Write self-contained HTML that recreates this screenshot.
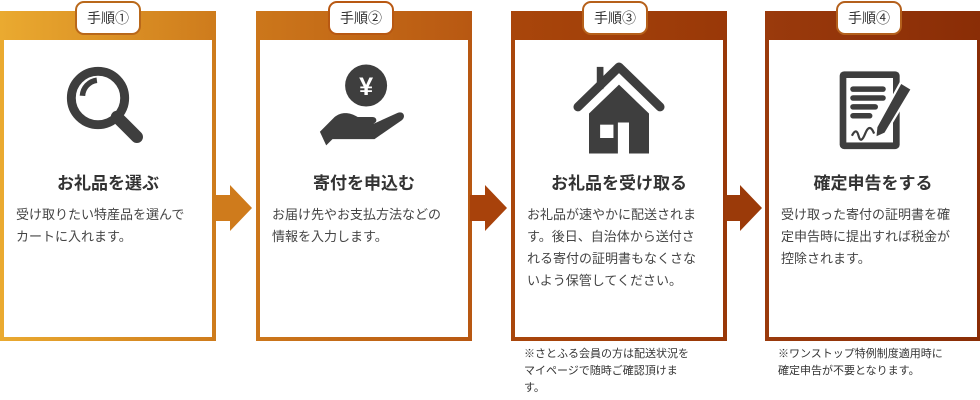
<!DOCTYPE html>
<html><head><meta charset="utf-8"><style>
body{margin:0;width:980px;height:400px;background:#fff;position:relative;font-family:"Liberation Sans","Noto Sans CJK JP",sans-serif;overflow:hidden}
.card{position:absolute;top:11px;width:216px;height:330px;box-sizing:border-box}
.inner{position:absolute;left:4px;right:4px;top:29px;bottom:4px;background:#fff}
.tab{position:absolute;top:1px;width:66px;height:34px;background:#fff;border:2px solid;border-radius:9px;box-sizing:border-box;text-align:center;font-size:14px;line-height:30px;color:#333}
.title{position:absolute;top:129px;left:0;right:0;text-align:center;font-weight:bold;font-size:17px;color:#333}
.body{position:absolute;top:164px;left:12px;right:18px;font-size:13px;line-height:22px;color:#444}
.icon{position:absolute;left:50%;top:18px;transform:translateX(-50%)}
.arrow{position:absolute;top:185px}
.note{position:absolute;top:346px;font-size:11px;line-height:17px;color:#333}
</style></head><body>
<div class="card" style="left:0;background:linear-gradient(90deg,#eaaa30,#ce7b1c)"><div class="inner">
<svg class="icon" width="100" height="100" viewBox="0 0 90 90"><circle cx="36" cy="36" r="24" fill="none" stroke="#3e3e3e" stroke-width="8"/><path d="M22 34a15 15 0 0 1 13-14" fill="none" stroke="#3e3e3e" stroke-width="5"/><path d="M53 53l18 18" stroke="#3e3e3e" stroke-width="11" stroke-linecap="round"/></svg>
<div class="title">お礼品を選ぶ</div><div class="body">受け取りたい特産品を選んでカートに入れます。</div></div></div>
<div class="tab" style="left:75px;border-color:#b9681a">手順①</div>
<svg class="arrow" style="left:215px" width="38" height="46"><path d="M0 10h15V0l22 23-22 23V36H0z" fill="#cf7b1c"/></svg>

<div class="card" style="left:256px;background:linear-gradient(90deg,#cc771b,#b85812)"><div class="inner">
<svg class="icon" width="105" height="95" viewBox="0 0 100 90"><circle cx="52" cy="26" r="20" fill="#3e3e3e"/><text x="52" y="35" text-anchor="middle" font-size="24" font-weight="bold" fill="#fff" font-family="Liberation Sans,sans-serif">¥</text><path d="M8 70l14-14c6-5 14-5 22 0h14c5 0 5 6 0 6H42h18l22-10c6-2 8 4 4 7L60 77H20l-6 6z" fill="#3e3e3e"/></svg>
<div class="title">寄付を申込む</div><div class="body">お届け先やお支払方法などの情報を入力します。</div></div></div>
<div class="tab" style="left:328px;border-color:#b85812">手順②</div>
<svg class="arrow" style="left:470px" width="38" height="46"><path d="M0 10h15V0l22 23-22 23V36H0z" fill="#a8420b"/></svg>

<div class="card" style="left:511px;background:linear-gradient(90deg,#a9460b,#993808)"><div class="inner">
<svg class="icon" width="100" height="100" viewBox="0 0 90 90"><path d="M8 44L45 8l37 36" fill="none" stroke="#3e3e3e" stroke-width="8" stroke-linecap="round" stroke-linejoin="round"/><rect x="25" y="8" width="6" height="20" fill="#3e3e3e"/><path d="M18 50L45 24l27 26v36H54V58H44v28H18z" fill="#3e3e3e"/><rect x="28" y="60" width="12" height="12" fill="#fff"/></svg>
<div class="title">お礼品を受け取る</div><div class="body">お礼品が速やかに配送されます。後日、自治体から送付される寄付の証明書もなくさないよう保管してください。</div></div></div>
<div class="tab" style="left:582px;border-color:#b6601a">手順③</div>
<svg class="arrow" style="left:725px" width="38" height="46"><path d="M0 10h15V0l22 23-22 23V36H0z" fill="#9b3a09"/></svg>

<div class="card" style="left:765px;background:linear-gradient(90deg,#9a3a0c,#8a2d06)"><div class="inner">
<svg class="icon" width="100" height="100" viewBox="0 0 90 90"><rect x="15" y="12" width="54" height="70" rx="4" fill="#3e3e3e"/><rect x="21" y="18" width="42" height="58" fill="#fff"/><g stroke="#3e3e3e" stroke-width="5" stroke-linecap="round"><path d="M27 28h27M27 36h27M27 44h20M27 52h15"/></g><path d="M70 22l10 6-24 40-9 4 1-10z" fill="#3e3e3e" stroke="#fff" stroke-width="2"/><path d="M26 70q4-8 6 0t6-2 8 0" fill="none" stroke="#3e3e3e" stroke-width="2"/></svg>
<div class="title">確定申告をする</div><div class="body">受け取った寄付の証明書を確定申告時に提出すれば税金が控除されます。</div></div></div>
<div class="tab" style="left:836px;border-color:#b4601c">手順④</div>

<div class="note" style="left:524px;width:172px">※さとふる会員の方は配送状況をマイページで随時ご確認頂けます。</div>
<div class="note" style="left:778px;width:172px">※ワンストップ特例制度適用時に確定申告が不要となります。</div>
</body></html>
